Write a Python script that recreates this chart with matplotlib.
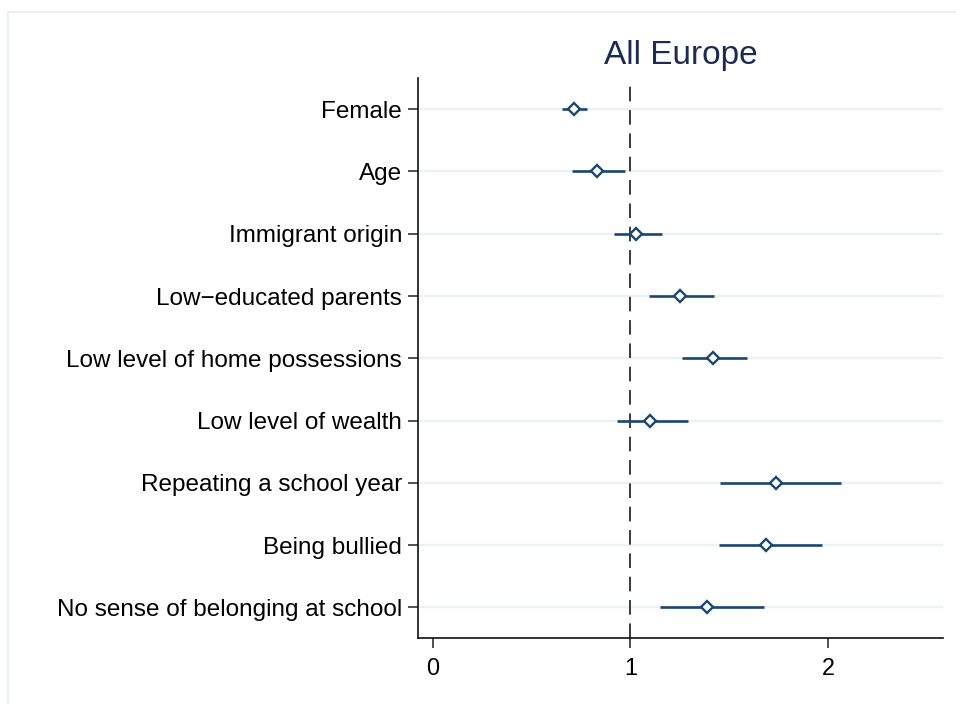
import matplotlib
matplotlib.use("Agg")
import matplotlib.pyplot as plt
from matplotlib.lines import Line2D

plt.rcParams['font.family'] = ['Liberation Sans', 'DejaVu Sans']

categories = ["Female", "Age", "Immigrant origin", "Low\u2212educated parents",
              "Low level of home possessions", "Low level of wealth",
              "Repeating a school year", "Being bullied",
              "No sense of belonging at school"]
estimates = [0.716, 0.830, 1.029, 1.250, 1.418, 1.099, 1.735, 1.687, 1.389]
ci_low = [0.655, 0.705, 0.916, 1.095, 1.259, 0.933, 1.455, 1.450, 1.148]
ci_high = [0.782, 0.972, 1.159, 1.424, 1.588, 1.293, 2.066, 1.968, 1.676]
xticks = [0, 1, 2]

W, H = 956, 704
fig = plt.figure(figsize=(W / 100, H / 100), dpi=100)
fig.patch.set_facecolor('white')

# light outer frame (left and top edges visible)
fig.add_artist(Line2D([8 / W, 8 / W], [0, 1 - 12 / H], transform=fig.transFigure,
                      color='#e6eeee', lw=1.2))
fig.add_artist(Line2D([8 / W, 1], [1 - 12 / H, 1 - 12 / H], transform=fig.transFigure,
                      color='#e6eeee', lw=1.2))

left, right, bottom, top = 418 / W, 943 / W, 1 - 638 / H, 1 - 78 / H
ax = fig.add_axes([left, bottom, right - left, top - bottom])

navy = '#1a476f'
ys = list(range(1, len(categories) + 1))

for y in ys:
    ax.axhline(y, color='#eaf2f3', lw=1.7, zorder=0)

ax.axvline(1, color='#3a3a3a', lw=1.4, ls=(0, (7.5, 4.5)), zorder=1)

for y, e, lo, hi in zip(ys, estimates, ci_low, ci_high):
    ax.plot([lo, hi], [y, y], color=navy, lw=1.9, solid_capstyle='butt', zorder=2)
ax.plot(estimates, ys, ls='none', marker='D', ms=6.2, mfc='white', mec=navy,
        mew=1.7, zorder=3)

ax.set_xlim(-0.074, 2.58)
ax.set_ylim(len(categories) + 0.49, 0.5)
ax.set_yticks(ys)
ax.set_yticklabels(categories, fontsize=17.5)
ax.set_xticks(xticks)
ax.set_xticklabels([str(t) for t in xticks], fontsize=16.8)
ax.tick_params(axis='both', direction='out', length=7.5, width=1.1, color='#222222')
ax.tick_params(axis='y', pad=4)
ax.tick_params(axis='x', pad=6)
for s in ['top', 'right']:
    ax.spines[s].set_visible(False)
for s in ['left', 'bottom']:
    ax.spines[s].set_linewidth(1.2)
    ax.spines[s].set_color('#111111')

ax.text(0.5, 1 + 14 / (638 - 78), "All Europe", transform=ax.transAxes,
        ha='center', va='baseline', fontsize=24, color='#1c2b50')

fig.savefig("out.png", dpi=100, facecolor='white')
